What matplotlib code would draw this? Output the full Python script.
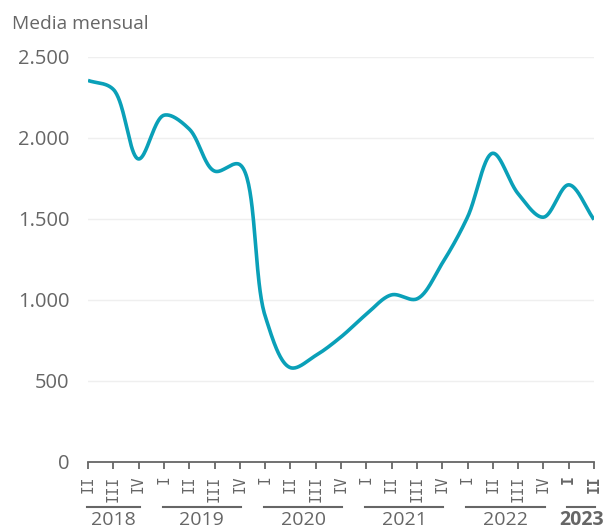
import numpy as np
import matplotlib
matplotlib.use("Agg")
import matplotlib.pyplot as plt
import matplotlib.transforms as mtransforms

# Quarterly monthly average, 2018 Q2 .. 2023 Q2
quarters = ["II", "III", "IV",
            "I", "II", "III", "IV",
            "I", "II", "III", "IV",
            "I", "II", "III", "IV",
            "I", "II", "III", "IV",
            "I", "II"]
values = [2355, 2300, 1870,
          2140, 2055, 1795, 1835,
          900, 580, 655, 770,
          910, 1030, 1005, 1225,
          1510, 1905, 1655, 1510,
          1710, 1495]
years = ["2018", "2019", "2020", "2021", "2022", "2023"]
year_counts = [3, 4, 4, 4, 4, 2]
yticks = [0, 500, 1000, 1500, 2000, 2500]
ytick_labels = ["0", "500", "1.000", "1.500", "2.000", "2.500"]

LINE = "#0aa0b8"
GREY = "#666666"


def centripetal_curve(x, y, sx, sy, n=40, alpha=0.5):
    # centripetal catmull-rom through the points, knots measured in pixels
    P = np.column_stack([np.asarray(x, float) * sx, np.asarray(y, float) * sy])
    P = np.vstack([2 * P[0] - P[1], P, 2 * P[-1] - P[-2]])
    out = []
    for i in range(1, len(P) - 2):
        p0, p1, p2, p3 = P[i - 1], P[i], P[i + 1], P[i + 2]
        t0 = 0.0
        t1 = t0 + np.linalg.norm(p1 - p0) ** alpha
        t2 = t1 + np.linalg.norm(p2 - p1) ** alpha
        t3 = t2 + np.linalg.norm(p3 - p2) ** alpha
        t = np.linspace(t1, t2, n, endpoint=False)[:, None]
        a1 = (t1 - t) / (t1 - t0) * p0 + (t - t0) / (t1 - t0) * p1
        a2 = (t2 - t) / (t2 - t1) * p1 + (t - t1) / (t2 - t1) * p2
        a3 = (t3 - t) / (t3 - t2) * p2 + (t - t2) / (t3 - t2) * p3
        b1 = (t2 - t) / (t2 - t0) * a1 + (t - t0) / (t2 - t0) * a2
        b2 = (t3 - t) / (t3 - t1) * a2 + (t - t1) / (t3 - t1) * a3
        c = (t2 - t) / (t2 - t1) * b1 + (t - t1) / (t2 - t1) * b2
        out.append(c)
    out.append(P[-2][None, :])
    out = np.vstack(out)
    return out[:, 0] / sx, out[:, 1] / sy


fig = plt.figure(figsize=(6.11, 5.29), dpi=100)
ax = fig.add_axes([88 / 611, 1 - 461.5 / 529, (594 - 88) / 611, 404.5 / 529])

xpos = np.arange(len(values))
px_per_x = (594 - 88) / (len(values) - 1)
px_per_y = 404.5 / 2500
cx, cy = centripetal_curve(xpos, values, px_per_x, px_per_y)
ax.plot(cx, cy, color=LINE, lw=2.6, solid_capstyle="butt", zorder=3)

ax.set_xlim(0, len(values) - 1)
ax.set_ylim(0, 2500)

for s in ["top", "right", "left"]:
    ax.spines[s].set_visible(False)
ax.spines["bottom"].set_color(GREY)
ax.spines["bottom"].set_linewidth(1.3)

ax.set_yticks(yticks)
ax.set_yticklabels(ytick_labels, fontsize=14.5, color=GREY, family="Open Sans")
ax.tick_params(axis="y", length=0, pad=13.5)
for v in yticks[1:]:
    ax.axhline(v, color="#efefef", lw=1, zorder=1)

ax.set_xticks(xpos)
ax.set_xticklabels(quarters, rotation=90, fontsize=10.5, color=GREY,
                   family="DejaVu Sans Mono", va="top")
for lab in ax.get_xticklabels()[-2:]:
    lab.set_fontweight("bold")
ax.tick_params(axis="x", length=5, width=1.3, color=GREY, pad=5)

# year groups under the quarter labels
trans = mtransforms.blended_transform_factory(ax.transData, ax.transAxes)
start = 0
for yr, cnt in zip(years, year_counts):
    end = start + cnt - 1
    ax.plot([start - 0.05, end + 0.05], [-0.112, -0.112], color=GREY, lw=1.5,
            transform=trans, clip_on=False)
    ax.text((start + end) / 2, -0.158, yr, transform=trans, ha="center",
            va="baseline", fontsize=14, color=GREY, family="Open Sans",
            fontweight="bold" if yr == "2023" else "normal")
    start = end + 1

fig.text(12 / 611, 1 - 29.3 / 529, "Media mensual", fontsize=13.8, color=GREY,
         family="Open Sans", va="baseline", ha="left")

fig.savefig("out.png", dpi=100)
